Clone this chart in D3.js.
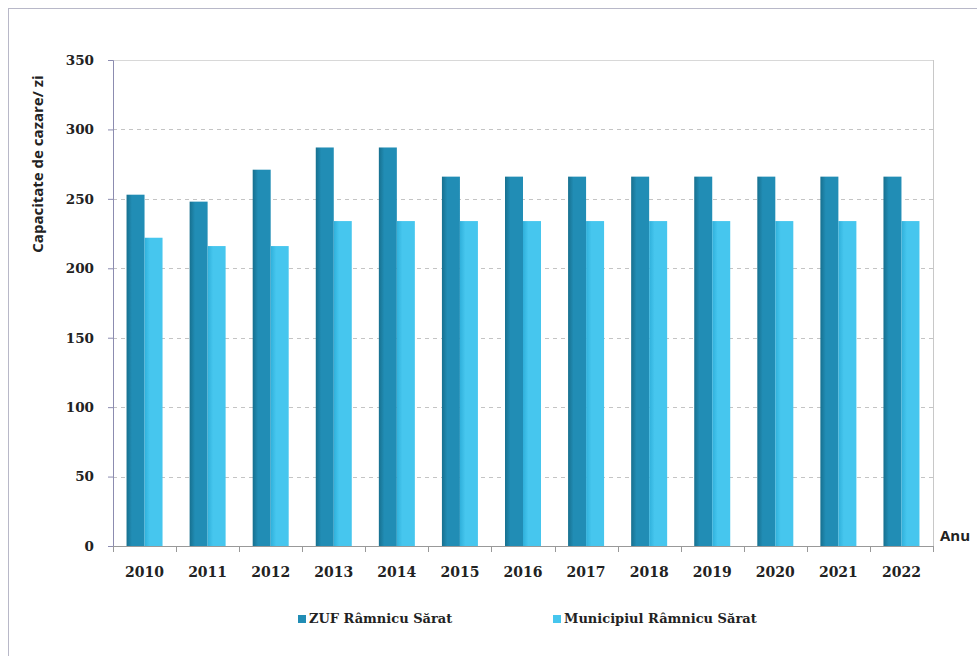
<!DOCTYPE html>
<html>
<head>
<meta charset="utf-8">
<script src="https://cdn.jsdelivr.net/npm/d3@7"></script>
<style>
  body { margin: 0; background: #fff; }
  svg { display: block; }
</style>
</head>
<body>
<div id="chart"></div>
<script>
const years = ['2010', '2011', '2012', '2013', '2014', '2015', '2016', '2017', '2018', '2019', '2020', '2021', '2022'];
const zufValues = [253, 248, 271, 287, 287, 266, 266, 266, 266, 266, 266, 266, 266];
const municipiuValues = [222, 216, 216, 234, 234, 234, 234, 234, 234, 234, 234, 234, 234];
const seriesNames = ['ZUF Râmnicu Sărat', 'Municipiul Râmnicu Sărat'];
const yTicks = [0, 50, 100, 150, 200, 250, 300, 350];

const width = 977;
const height = 656;
const margin = { top: 60, right: 44, bottom: 110, left: 113 };
const plotW = width - margin.left - margin.right;
const plotH = height - margin.top - margin.bottom;

const svg = d3.select('#chart').append('svg')
  .attr('width', width)
  .attr('height', height);

// gradients give the bars the shaded left edge seen in the original
const defs = svg.append('defs');
const colours = [
  { id: 'gZuf', edge: '#17708f', main: '#218db5' },
  { id: 'gMun', edge: '#2fb0db', main: '#46c6ee' }
];
colours.forEach(c => {
  const g = defs.append('linearGradient').attr('id', c.id)
    .attr('x1', '0%').attr('x2', '100%').attr('y1', '0%').attr('y2', '0%');
  g.append('stop').attr('offset', '0%').attr('stop-color', c.edge);
  g.append('stop').attr('offset', '30%').attr('stop-color', c.main);
  g.append('stop').attr('offset', '100%').attr('stop-color', c.main);
});

// outer frame
svg.append('rect')
  .attr('x', 8.5).attr('y', 8.5)
  .attr('width', width + 10).attr('height', height + 10)
  .attr('fill', 'none')
  .attr('stroke', '#b8b8c8')
  .attr('stroke-width', 1);

const g = svg.append('g').attr('transform', `translate(${margin.left},${margin.top})`);

const x = d3.scaleBand().domain(years).range([0, plotW]).paddingInner(0).paddingOuter(0);
const y = d3.scaleLinear().domain([0, 350]).range([plotH, 0]);

// gridlines
g.append('g').selectAll('line')
  .data(yTicks.filter(t => t > 0))
  .join('line')
  .attr('x1', 0).attr('x2', plotW)
  .attr('y1', d => Math.round(y(d)) + 0.5).attr('y2', d => Math.round(y(d)) + 0.5)
  .attr('stroke', d => d === 350 ? '#d8d8d8' : '#c4c4c4')
  .attr('stroke-dasharray', d => d === 350 ? null : '4,4');

// right border of plot area
g.append('line')
  .attr('x1', plotW + 0.5).attr('x2', plotW + 0.5)
  .attr('y1', 0).attr('y2', plotH)
  .attr('stroke', '#c8c8c8');

// bars
const barW = 18;
const groups = g.append('g').selectAll('g')
  .data(years)
  .join('g')
  .attr('transform', d => `translate(${x(d) + x.bandwidth() / 2 - barW},0)`);

groups.append('rect')
  .attr('x', 0)
  .attr('y', (d, i) => y(zufValues[i]))
  .attr('width', barW)
  .attr('height', (d, i) => plotH - y(zufValues[i]))
  .attr('fill', 'url(#gZuf)');

groups.append('rect')
  .attr('x', barW)
  .attr('y', (d, i) => y(municipiuValues[i]))
  .attr('width', barW)
  .attr('height', (d, i) => plotH - y(municipiuValues[i]))
  .attr('fill', 'url(#gMun)');

// y axis
const yAxis = g.append('g')
  .call(d3.axisLeft(y).tickValues(yTicks).tickSize(5).tickPadding(14));
yAxis.select('.domain').attr('stroke', '#8c8cb0');
yAxis.selectAll('.tick line').attr('stroke', '#8c8cb0');
yAxis.selectAll('text')
  .attr('font-family', '"DejaVu Serif", serif')
  .attr('font-weight', 'bold')
  .attr('font-size', 13.5)
  .attr('fill', '#222');

// x axis, ticks fall between categories
const xAxis = g.append('g')
  .attr('transform', `translate(0,${plotH})`);
xAxis.append('line')
  .attr('x1', 0).attr('x2', plotW)
  .attr('y1', 0.5).attr('y2', 0.5)
  .attr('stroke', '#999');
xAxis.selectAll('line.tk')
  .data(years.concat(['end']))
  .join('line')
  .attr('class', 'tk')
  .attr('x1', (d, i) => Math.round(i * x.bandwidth()) + 0.5)
  .attr('x2', (d, i) => Math.round(i * x.bandwidth()) + 0.5)
  .attr('y1', 0).attr('y2', 6)
  .attr('stroke', '#999');
xAxis.selectAll('text')
  .data(years)
  .join('text')
  .attr('x', d => x(d) + x.bandwidth() / 2)
  .attr('y', 31)
  .attr('text-anchor', 'middle')
  .attr('font-family', '"DejaVu Serif", serif')
  .attr('font-weight', 'bold')
  .attr('font-size', 14)
  .attr('fill', '#222')
  .text(d => d);

// axis titles
svg.append('text')
  .attr('transform', `translate(43,${margin.top + 104}) rotate(-90)`)
  .attr('text-anchor', 'middle')
  .attr('font-family', '"Open Sans", sans-serif')
  .attr('font-weight', 'bold')
  .attr('font-size', 15)
  .attr('fill', '#222')
  .text('Capacitate de cazare/ zi');

svg.append('text')
  .attr('x', 940)
  .attr('y', margin.top + plotH - 5)
  .attr('font-family', '"Open Sans", sans-serif')
  .attr('font-weight', 'bold')
  .attr('font-size', 15)
  .attr('fill', '#222')
  .text('Anu');

// legend
const legend = svg.append('g').attr('transform', 'translate(298,623)');
const legendX = [0, 255];
const legendFill = ['#218db5', '#46c6ee'];
seriesNames.forEach((name, i) => {
  legend.append('rect')
    .attr('x', legendX[i]).attr('y', -8)
    .attr('width', 8).attr('height', 8)
    .attr('fill', legendFill[i]);
  legend.append('text')
    .attr('x', legendX[i] + 11).attr('y', 0)
    .attr('font-family', '"DejaVu Serif", serif')
    .attr('font-weight', 'bold')
    .attr('font-size', 13)
    .attr('fill', '#222')
    .text(name);
});
</script>
</body>
</html>
